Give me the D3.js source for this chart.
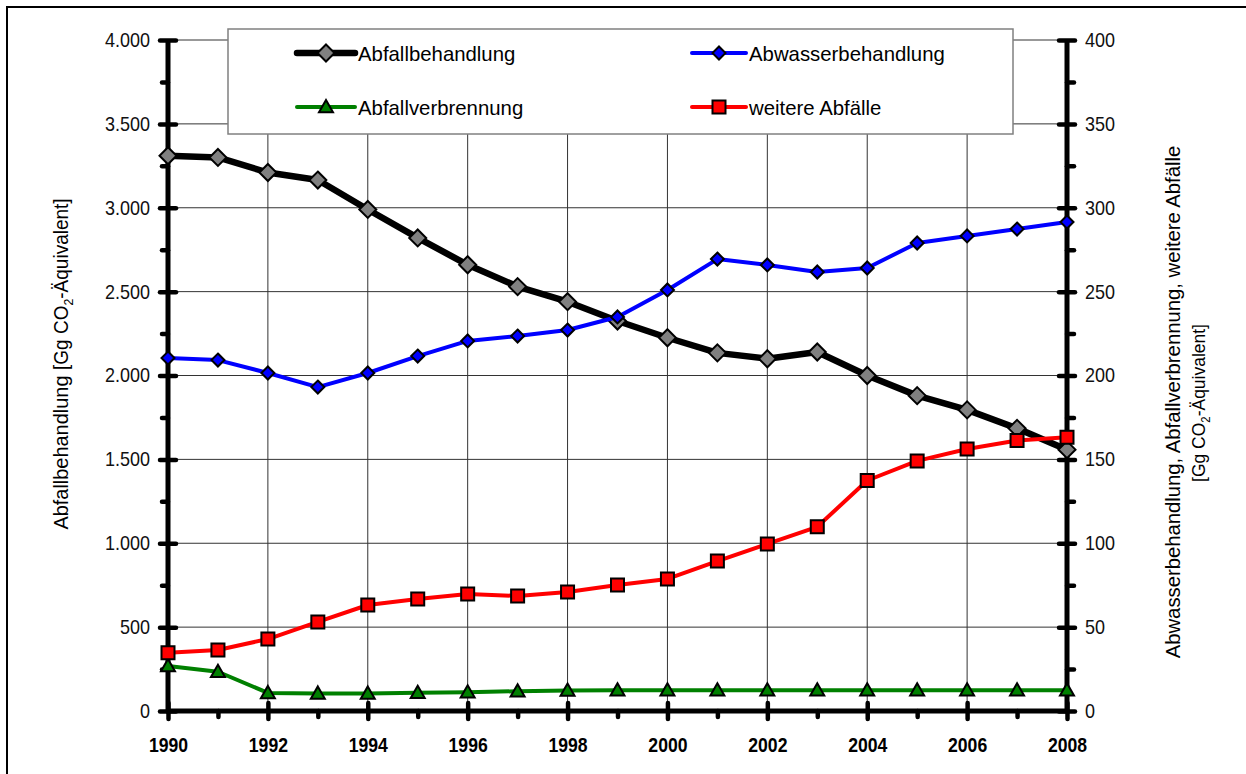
<!DOCTYPE html>
<html>
<head>
<meta charset="utf-8">
<script src="https://cdn.jsdelivr.net/npm/d3@7/dist/d3.min.js"></script>
<style>
  html, body { margin: 0; padding: 0; background: #fff; }
  svg { display: block; font-family: "Liberation Sans", Arial, sans-serif; }
</style>
</head>
<body>
<div id="chart"></div>
<script>
// data
const years = d3.range(1990, 2009);
const abfallbehandlung = [3310, 3300, 3210, 3165, 2990, 2820, 2660, 2530, 2440, 2325, 2225, 2135, 2100, 2140, 2000, 1880, 1795, 1685, 1558];
const abwasserbehandlung = [210.4, 209.2, 201.5, 193.1, 201.5, 211.6, 220.6, 223.5, 227.1, 234.9, 251.0, 269.4, 265.9, 261.7, 264.1, 279.0, 283.2, 287.3, 291.5];
const abfallverbrennung = [26.8, 23.4, 10.8, 10.5, 10.5, 10.9, 11.2, 11.8, 12.2, 12.4, 12.4, 12.4, 12.4, 12.4, 12.4, 12.4, 12.4, 12.4, 12.4];
const weitereAbfaelle = [34.7, 36.4, 42.9, 53.1, 63.2, 66.8, 69.7, 68.6, 70.9, 75.1, 78.7, 89.4, 99.6, 109.8, 137.4, 149.1, 156.2, 161.3, 163.2];
const leftTicks = d3.range(0, 4001, 500);
const rightTicks = d3.range(0, 401, 50);
const xTickLabels = d3.range(1990, 2009, 2);

const width = 1246, height = 774;
const narrow = 0.9; // squeeze Liberation Sans towards the narrow face of the original

const svg = d3.select('#chart').append('svg')
  .attr('width', width)
  .attr('height', height);

const x = d3.scaleLinear().domain([1990, 2008]).range([168, 1067]);
const yL = d3.scaleLinear().domain([0, 4000]).range([711, 40]);
const yR = d3.scaleLinear().domain([0, 400]).range([711, 40]);

// outer frame (only top and left edges visible)
svg.append('rect')
  .attr('x', 7).attr('y', 7)
  .attr('width', 1300).attr('height', 900)
  .attr('fill', 'none').attr('stroke', '#000').attr('stroke-width', 2);

// grid
svg.append('g')
  .selectAll('line')
  .data(leftTicks.filter(d => d > 0))
  .join('line')
    .attr('x1', x(1990)).attr('x2', x(2008))
    .attr('y1', d => yL(d)).attr('y2', d => yL(d))
    .attr('stroke', '#333').attr('stroke-width', 1);

svg.append('g')
  .selectAll('line')
  .data(xTickLabels.filter(d => d > 1990 && d < 2008))
  .join('line')
    .attr('x1', d => x(d)).attr('x2', d => x(d))
    .attr('y1', yL(4000)).attr('y2', yL(0))
    .attr('stroke', '#333').attr('stroke-width', 1);

// legend box (drawn over the grid)
svg.append('rect')
  .attr('x', 228).attr('y', 29)
  .attr('width', 785).attr('height', 105)
  .attr('fill', '#fff').attr('stroke', '#808080').attr('stroke-width', 1.5);

// axes built with d3 axis generators, then restyled
function styleAxis(g) {
  g.select('.domain').remove();
  g.selectAll('.tick line').attr('stroke', '#000').attr('stroke-width', 4.5).attr('stroke-linecap', 'round');
  g.selectAll('.tick text').attr('fill', '#111');
}

function squeezeTicks(g, tx) {
  g.selectAll('.tick text')
    .attr('x', tx / narrow)
    .attr('transform', `scale(${narrow},1)`);
}

const leftAxis = svg.append('g')
  .attr('transform', `translate(${x(1990)},0)`)
  .call(d3.axisLeft(yL).tickValues(leftTicks).tickSize(8)
    .tickFormat(d => d3.format(',')(d).replace(/,/g, '.')))
  .call(styleAxis)
  .attr('font-size', 20).attr('font-family', null);
leftAxis.selectAll('.tick line').attr('x2', -8).attr('x1', 8);
squeezeTicks(leftAxis, -18);

svg.append('g')
  .attr('transform', `translate(${x(1990)},0)`)
  .call(d3.axisLeft(yL).tickValues(d3.range(250, 4000, 500)).tickSize(6).tickFormat(''))
  .call(styleAxis);

const rightAxis = svg.append('g')
  .attr('transform', `translate(${x(2008)},0)`)
  .call(d3.axisRight(yR).tickValues(rightTicks).tickSize(8))
  .call(styleAxis)
  .attr('font-size', 20).attr('font-family', null);
rightAxis.selectAll('.tick line').attr('x1', -8).attr('x2', 8);
squeezeTicks(rightAxis, 18);

svg.append('g')
  .attr('transform', `translate(${x(2008)},0)`)
  .call(d3.axisRight(yR).tickValues(d3.range(25, 400, 50)).tickSize(7).tickFormat(''))
  .call(styleAxis);

const bottomAxis = svg.append('g')
  .attr('transform', `translate(0,${yL(0)})`)
  .call(d3.axisBottom(x).tickValues(xTickLabels).tickSize(9).tickFormat(d3.format('d')))
  .call(styleAxis)
  .attr('font-size', 20.5).attr('font-family', null);
bottomAxis.selectAll('.tick line').attr('y1', -8).attr('y2', 8);
bottomAxis.selectAll('.tick text')
  .attr('y', 41).attr('dy', 0).attr('fill', '#000').attr('font-weight', 'bold')
  .attr('transform', 'scale(0.86,1)').attr('x', 0);

svg.append('g')
  .attr('transform', `translate(0,${yL(0)})`)
  .call(d3.axisBottom(x).tickValues(years.filter(d => d % 2 === 1)).tickSize(6).tickFormat(''))
  .call(styleAxis);

// axis lines
svg.append('line').attr('x1', x(1990)).attr('x2', x(1990)).attr('y1', yL(4000)).attr('y2', yL(0) + 2)
  .attr('stroke', '#000').attr('stroke-width', 5);
svg.append('line').attr('x1', x(2008)).attr('x2', x(2008)).attr('y1', yR(400)).attr('y2', yR(0) + 2)
  .attr('stroke', '#000').attr('stroke-width', 5);
svg.append('line').attr('x1', x(1990) - 2).attr('x2', x(2008) + 2).attr('y1', yL(0)).attr('y2', yL(0))
  .attr('stroke', '#000').attr('stroke-width', 5);

// series
const series = [
  { name: 'Abfallbehandlung', values: abfallbehandlung, y: yL, color: '#000', width: 6.5, marker: 'diamond', fill: '#808080', size: 8.5 },
  { name: 'Abwasserbehandlung', values: abwasserbehandlung, y: yR, color: '#0000ff', width: 4, marker: 'diamond', fill: '#0000ff', size: 6.5 },
  { name: 'Abfallverbrennung', values: abfallverbrennung, y: yR, color: '#008000', width: 4, marker: 'triangle', fill: '#008000', size: 7 },
  { name: 'weitere Abfälle', values: weitereAbfaelle, y: yR, color: '#ff0000', width: 4, marker: 'square', fill: '#ff0000', size: 6.5 }
];

function markerPath(type, s) {
  if (type === 'diamond') return `M0,${-s}L${s},0L0,${s}L${-s},0Z`;
  if (type === 'triangle') return `M0,${-s}L${s},${s * 0.75}L${-s},${s * 0.75}Z`;
  return `M${-s},${-s}H${s}V${s}H${-s}Z`;
}

series.forEach(sr => {
  const g = svg.append('g');
  g.append('path')
    .datum(sr.values)
    .attr('fill', 'none')
    .attr('stroke', sr.color)
    .attr('stroke-width', sr.width)
    .attr('stroke-linejoin', 'round')
    .attr('d', d3.line().x((d, i) => x(years[i])).y(d => sr.y(d)));
  g.selectAll('path.m')
    .data(sr.values)
    .join('path')
      .attr('class', 'm')
      .attr('transform', (d, i) => `translate(${x(years[i])},${sr.y(d)})`)
      .attr('d', markerPath(sr.marker, sr.size))
      .attr('fill', sr.fill)
      .attr('stroke', '#000')
      .attr('stroke-width', 2);
});

// legend entries
const legendPos = [
  { x1: 297, x2: 355, y: 53 },
  { x1: 692, x2: 746, y: 53 },
  { x1: 297, x2: 355, y: 107 },
  { x1: 692, x2: 746, y: 107 }
];
series.forEach((sr, i) => {
  const p = legendPos[i];
  const g = svg.append('g');
  g.append('line').attr('x1', p.x1).attr('x2', p.x2).attr('y1', p.y).attr('y2', p.y)
    .attr('stroke', sr.color).attr('stroke-width', sr.width).attr('stroke-linecap', 'round');
  g.append('path')
    .attr('transform', `translate(${(p.x1 + p.x2) / 2},${p.y})`)
    .attr('d', markerPath(sr.marker, sr.size))
    .attr('fill', sr.fill).attr('stroke', '#000').attr('stroke-width', 2);
  g.append('text')
    .attr('transform', `translate(${p.x2 + 3},${p.y + 8}) scale(0.97,1)`)
    .attr('font-size', 21).attr('fill', '#000')
    .text(sr.name);
});

// axis titles
function co2Label(t, size) {
  t.append('tspan').attr('font-size', size).text('[Gg CO');
  t.append('tspan').attr('font-size', size * 0.65).attr('dy', 5).text('2');
  t.append('tspan').attr('font-size', size).attr('dy', -5).text('-Äquivalent]');
}

const lt = svg.append('text')
  .attr('transform', 'translate(68,364) rotate(-90) scale(0.95,1)')
  .attr('text-anchor', 'middle').attr('fill', '#000');
lt.append('tspan').attr('font-size', 21).text('Abfallbehandlung  ');
co2Label(lt, 20);

svg.append('text')
  .attr('transform', 'translate(1180,402) rotate(-90) scale(0.966,1)')
  .attr('text-anchor', 'middle').attr('fill', '#000')
  .attr('font-size', 21)
  .text('Abwasserbehandlung, Abfallverbrennung, weitere Abfälle');

const rt = svg.append('text')
  .attr('transform', 'translate(1205,403) rotate(-90) scale(0.92,1)')
  .attr('text-anchor', 'middle').attr('fill', '#000');
co2Label(rt, 19);
</script>
</body>
</html>
